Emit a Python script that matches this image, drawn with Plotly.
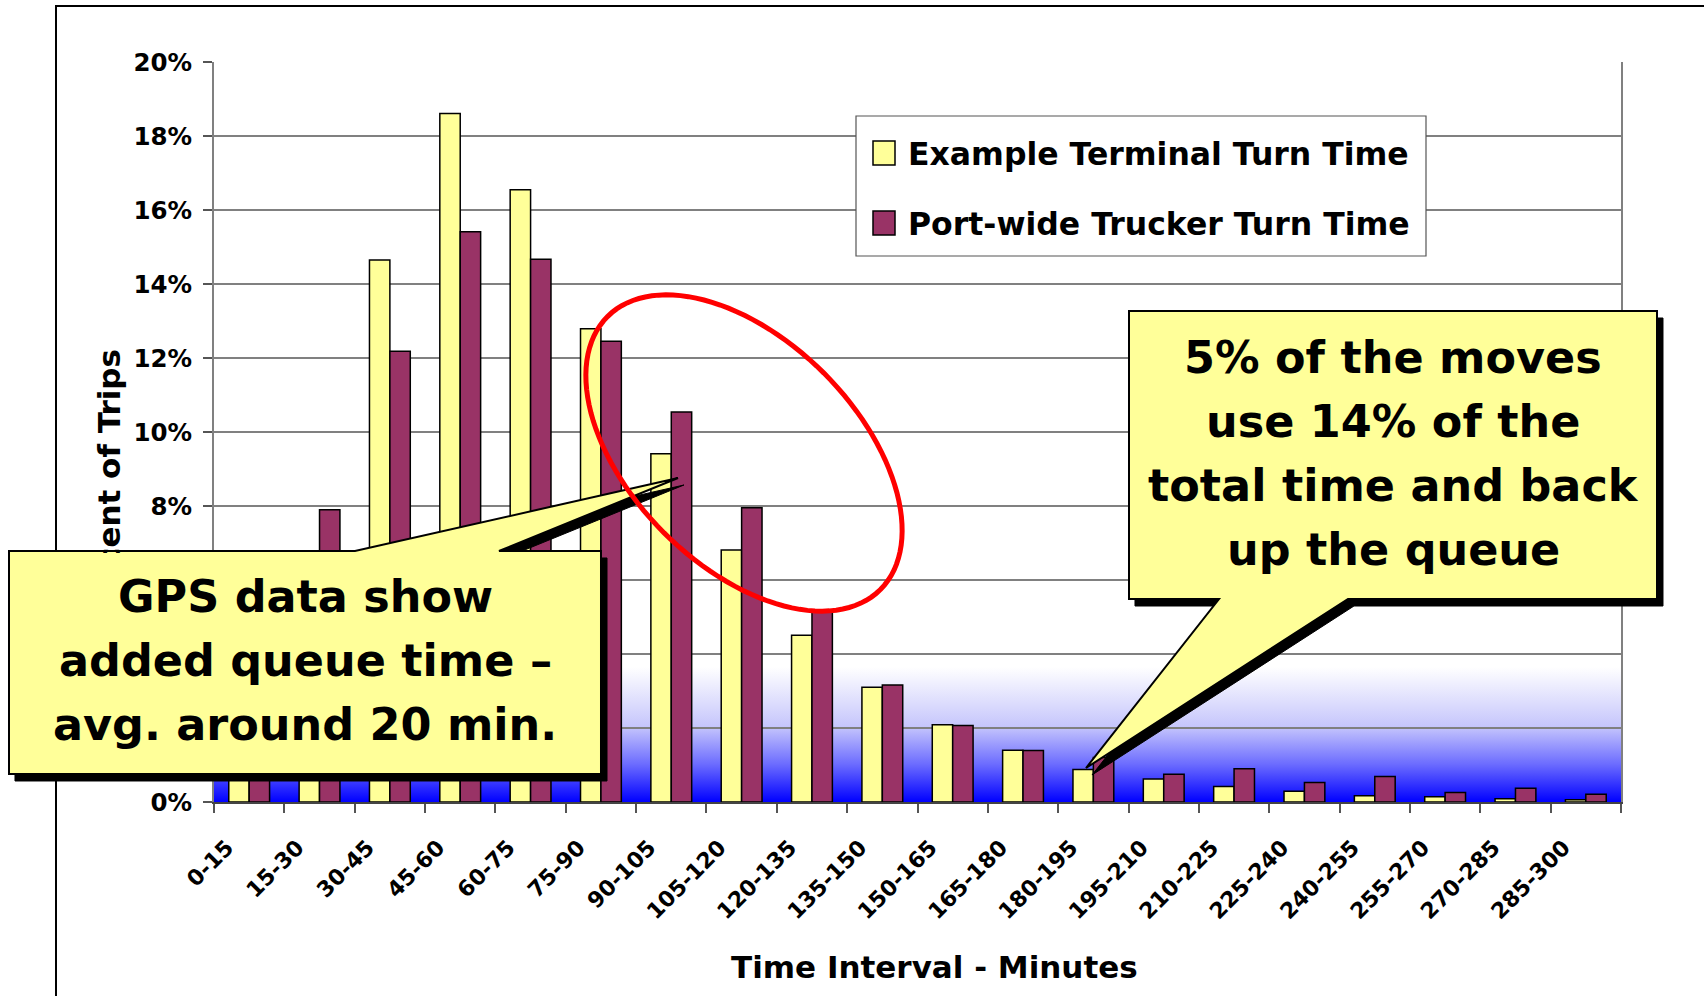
import base64
import numpy as np
import plotly.graph_objects as go

# ---- data -------------------------------------------------------------
intervals = ["0-15", "15-30", "30-45", "45-60", "60-75", "75-90", "90-105",
             "105-120", "120-135", "135-150", "150-165", "165-180", "180-195",
             "195-210", "210-225", "225-240", "240-255", "255-270", "270-285",
             "285-300"]
terminal_pct = [1.2, 6.2, 14.65, 18.61, 16.55, 12.79, 9.41, 6.81, 4.51, 3.10,
                2.09, 1.40, 0.88, 0.62, 0.42, 0.29, 0.17, 0.145, 0.09, 0.06]
portwide_pct = [2.2, 7.9, 12.18, 15.41, 14.67, 12.45, 10.54, 7.95, 5.15, 3.16,
                2.07, 1.39, 1.20, 0.75, 0.90, 0.53, 0.69, 0.26, 0.37, 0.21]

series_names = ["Example Terminal Turn Time", "Port-wide Trucker Turn Time"]
series_colors = ["#FFFF99", "#993366"]

y_ticks = list(range(0, 21, 2))
x_title = "Time Interval - Minutes"
y_title = "Percent of Trips"
left_note = ["GPS data show", "added queue time \u2013", "avg. around 20 min."]
right_note = ["5% of the moves", "use 14% of the", "total time and back", "up the queue"]

# ---- page geometry (pixels) -------------------------------------------
W, H = 1704, 996
L, R, T, B = 214, 1621, 62, 802
FONT = "DejaVu Sans"


def px(x):
    return (x - L) / (R - L)


def py(y):
    return (B - y) / (B - T)


def poly(points, close=True):
    d = "M " + " L ".join(f"{px(x):.5f},{py(y):.5f}" for x, y in points)
    return d + (" Z" if close else "")


def shifted(points, dx, dy):
    return [(x + dx, y + dy) for x, y in points]


fig = go.Figure()
for name, vals, col in zip(series_names, [terminal_pct, portwide_pct], series_colors):
    fig.add_trace(go.Bar(x=intervals, y=vals, name=name,
                         marker=dict(color=col, line=dict(color="black", width=1.5)),
                         showlegend=False))

# blue fade behind the lowest band of the plot
grad_svg = ("<svg xmlns='http://www.w3.org/2000/svg' viewBox='0 0 10 100' width='10' "
            "height='100' preserveAspectRatio='none'><defs><linearGradient id='g' "
            "x1='0' y1='0' x2='0' y2='1'><stop offset='0' stop-color='#ffffff'/>"
            "<stop offset='0.44' stop-color='#c6c6fc'/><stop offset='0.72' stop-color='#6c6cff'/>"
            "<stop offset='1' stop-color='#0000ff'/></linearGradient></defs>"
            "<rect width='10' height='100' fill='url(#g)'/></svg>")
grad_src = "data:image/svg+xml;base64," + base64.b64encode(grad_svg.encode()).decode()

shapes = []
# outer frame
shapes.append(dict(type="rect", xref="paper", yref="paper",
                   x0=px(56), x1=px(1730), y0=py(1020), y1=py(6),
                   line=dict(color="black", width=2), layer="above"))

# legend box with swatches
shapes.append(dict(type="rect", xref="paper", yref="paper",
                   x0=px(856), x1=px(1426), y0=py(256), y1=py(116),
                   line=dict(color="#555555", width=1.2), fillcolor="white", layer="above"))
for col, (top, bot) in zip(series_colors, [(141, 165), (211, 235)]):
    shapes.append(dict(type="rect", xref="paper", yref="paper",
                       x0=px(873), x1=px(895), y0=py(bot), y1=py(top),
                       line=dict(color="black", width=1.5), fillcolor=col, layer="above"))

# callouts: box merged with pointer, dropped shadow underneath
left_call = [(9, 551), (355, 551), (678, 478), (499, 551), (601, 551), (601, 774), (9, 774)]
right_call = [(1129, 311), (1657, 311), (1657, 599), (1348, 599), (1086, 768),
              (1219, 599), (1129, 599)]
for pts in (left_call, right_call):
    shapes.append(dict(type="path", xref="paper", yref="paper",
                       path=poly(shifted(pts, 6, 7)), fillcolor="black",
                       line=dict(color="black", width=1), layer="above"))
    shapes.append(dict(type="path", xref="paper", yref="paper", path=poly(pts),
                       fillcolor="#FFFF99", line=dict(color="black", width=2),
                       layer="above"))

# red ring around the 90-135 minute bars
t = np.linspace(0, 2 * np.pi, 121)
cx, cy, a, b, phi = 744, 453, 193, 113, np.pi / 4
ex = cx + a * np.cos(phi) * np.cos(t) - b * np.sin(phi) * np.sin(t)
ey = cy + a * np.sin(phi) * np.cos(t) + b * np.cos(phi) * np.sin(t)
shapes.append(dict(type="path", xref="paper", yref="paper",
                   path=poly(list(zip(ex, ey))),
                   line=dict(color="#FF0000", width=5), layer="above"))

annotations = []
# vertical axis title
annotations.append(dict(text=y_title, xref="paper", yref="paper", x=px(109), y=py(487),
                        textangle=-90, showarrow=False, xanchor="center", yanchor="middle",
                        font=dict(family=FONT, size=31, color="black", weight="bold")))
# fill of the left callout, laid over the axis title
annotations.append(dict(text=" ", xref="paper", yref="paper", x=px(11), y=py(553),
                        xanchor="left", yanchor="top", width=588, height=219,
                        bgcolor="#FFFF99", borderwidth=0, borderpad=0, showarrow=False))
# horizontal axis title
annotations.append(dict(text=x_title, xref="paper", yref="paper", x=px(934), y=py(967),
                        showarrow=False, xanchor="center", yanchor="middle",
                        font=dict(family=FONT, size=31, color="black", weight="bold")))
# legend labels
for name, yc in zip(series_names, [153.5, 223.5]):
    annotations.append(dict(text=name, xref="paper", yref="paper", x=px(906), y=py(yc),
                            showarrow=False, xanchor="left", yanchor="middle",
                            font=dict(family=FONT, size=31.5, color="black", weight="bold")))
# callout texts
for lines, xc, base0 in [(left_note, 305, 612), (right_note, 1393, 373)]:
    for i, line in enumerate(lines):
        yc = base0 + 64 * i - 15.4
        annotations.append(dict(text=line, xref="paper", yref="paper", x=px(xc), y=py(yc),
                                showarrow=False, xanchor="center", yanchor="middle",
                                font=dict(family=FONT, size=44.5, color="black", weight="bold")))

fig.update_layout(
    width=W, height=H,
    margin=dict(l=L, r=W - R, t=T, b=H - B, pad=0, autoexpand=False),
    paper_bgcolor="white", plot_bgcolor="white",
    barmode="group", bargap=0.42, bargroupgap=0,
    images=[dict(source=grad_src, xref="paper", yref="y", x=0, y=3.65, sizex=1, sizey=3.65,
                 sizing="stretch", xanchor="left", yanchor="top", layer="below")],
    shapes=shapes, annotations=annotations,
    xaxis=dict(type="category", categoryorder="array", categoryarray=intervals,
               tickangle=-45, ticks="outside", tickson="boundaries", ticklen=9,
               tickwidth=1.5, tickcolor="#555555", showline=True, linecolor="#444444",
               linewidth=2, showgrid=False, ticklabelshift=-22, ticklabelstandoff=22,
               tickfont=dict(family=FONT, size=22, color="black", weight="bold")),
    yaxis=dict(range=[0, 20], tickvals=y_ticks, ticktext=[f"{v}%" for v in y_ticks],
               ticks="outside", ticklen=9, tickwidth=1.5, tickcolor="#555555",
               showline=True, linecolor="#808080", linewidth=2, mirror=True,
               showgrid=True, gridcolor="#808080", gridwidth=1.5, zeroline=False,
               ticklabelstandoff=6,
               tickfont=dict(family=FONT, size=24.5, color="black", weight="bold")),
)

fig.write_html("out.html")
